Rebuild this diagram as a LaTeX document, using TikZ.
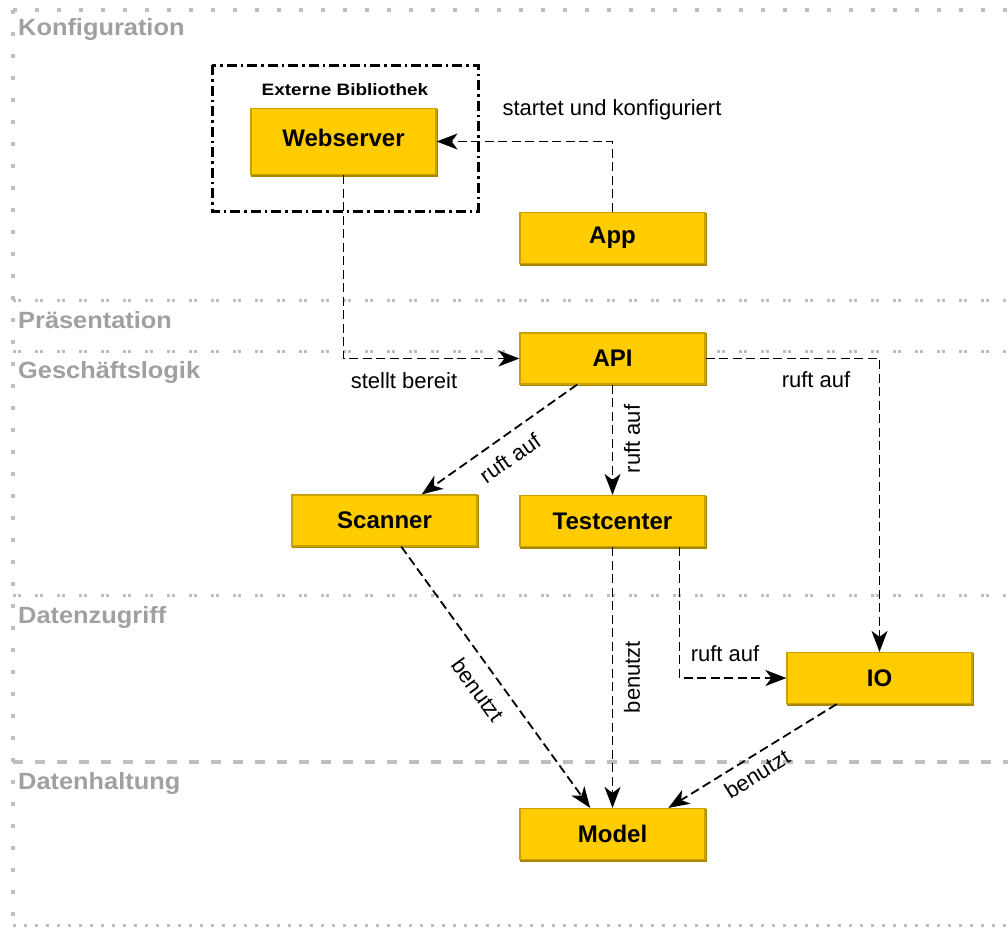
\documentclass[tikz,border=0pt]{standalone}
\usepackage{fontspec}
\setmainfont{Liberation Sans}
\newfontfamily\lanefont[FakeStretch=1.08]{Liberation Sans}
\newfontfamily\libfont[FakeStretch=1.15]{Liberation Sans}
\usetikzlibrary{arrows.meta,calc}

\definecolor{boxfill}{RGB}{255,204,0}
\definecolor{boxline}{RGB}{200,160,0}
\definecolor{boxshade}{RGB}{170,135,0}
\definecolor{lanetext}{RGB}{160,160,160}
\definecolor{laneline}{RGB}{190,190,190}

\tikzset{
  comp/.style={rectangle, draw=boxline, fill=boxfill, line width=1.2pt,
    minimum width=185pt, minimum height=51pt, inner sep=0pt,
    font=\fontsize{24}{28}\selectfont\bfseries,
    append after command={
      \pgfextra{\draw[boxshade, line width=1.6pt]
        ([xshift=1pt,yshift=-1pt]\tikzlastnode.south west) -- ([xshift=1pt,yshift=-1pt]\tikzlastnode.south east)
        -- ([xshift=1pt,yshift=-1pt]\tikzlastnode.north east);}}},
  conn/.style={draw=black, line width=1.8pt, dash pattern=on 9pt off 4.5pt,
    -{Stealth[length=21pt,width=16pt,inset=6pt]}},
  elabel/.style={inner sep=0pt, font=\fontsize{22}{26}\selectfont},
  lanelabel/.style={anchor=west, inner sep=0pt, text=lanetext,
    font=\fontsize{23.5}{27}\lanefont\bfseries},
  sepline/.style={draw=laneline, line width=3pt,
    dash pattern=on 3pt off 1.5pt on 3pt off 14.5pt},
  borderdots/.style={draw=laneline, line width=3.5pt, dash pattern=on 3.5pt off 18.5pt},
  libframe/.style={draw=black, line width=3pt,
    dash pattern=on 10pt off 4pt on 2.5pt off 4pt}
}

\begin{document}
\begin{tikzpicture}[x=1pt,y=-1pt]
\useasboundingbox (0,0) rectangle (1008,929);

% swimlane borders and separators
\draw[borderdots] (13,10) -- (1008,10);
\draw[borderdots] (13,10) -- (13,925);
\draw[draw=laneline, line width=3pt, dash pattern=on 3pt off 8pt] (13,925) -- (1008,925);
\draw[sepline] (13,300) -- (1008,300);
\draw[sepline] (13,351) -- (1008,351);
\draw[sepline] (13,595) -- (1008,595);
\draw[draw=laneline, line width=3.5pt, dash pattern=on 10pt off 12pt] (13,762) -- (1008,762);

% lane titles
\node[lanelabel] (lkonf) at (18,29)  {Konfiguration};
\node[lanelabel] (lpraes) at (18,320) {Präsentation};
\node[lanelabel] (lgesch) at (18,372) {Geschäftslogik};
\node[lanelabel] (lzugr) at (18,617) {Datenzugriff};
\node[lanelabel] (lhalt) at (18,783) {Datenhaltung};

% external library frame
\draw[libframe] (212,65) rectangle (478,211);
\node[inner sep=0pt, font=\fontsize{16.5}{20}\libfont\bfseries] (libtitle) at (345,90) {Externe Bibliothek};

% components
\node[comp, minimum height=66pt] (web) at (343.5,141.5) {\raisebox{8pt}{Webserver}};
\node[comp] (app) at (612.5,238) {App};
\node[comp] (api) at (612.5,358.5) {API};
\node[comp] (scanner) at (384.5,520.5) {Scanner};
\node[comp] (testcenter) at (612.5,521) {Testcenter};
\node[comp] (io) at (879.5,678) {IO};
\node[comp] (model) at (612.5,834) {Model};

% connectors
\draw[conn] (app.north) |- (web.east);
\draw[conn] (web.south) |- (api.west);
\draw[conn] (api.east) -| (io.north);
\draw[conn] ($(api.south west)!0.31!(api.south east)$) -- ($(scanner.north west)!0.70!(scanner.north east)$);
\draw[conn] (api.south) -- (testcenter.north);
\draw[conn] ($(scanner.south west)!0.59!(scanner.south east)$) -- ($(model.north west)!0.38!(model.north east)$);
\draw[conn] (testcenter.south) -- (model.north);
\draw[conn] ($(testcenter.south west)!0.86!(testcenter.south east)$) |- (io.west);
\draw[conn] ($(io.south west)!0.27!(io.south east)$) -- ($(model.north west)!0.80!(model.north east)$);

% connector labels
\node[elabel] (l1) at (612,110) {startet und konfiguriert};
\node[elabel] (l2) at (404,381) {stellt bereit};
\node[elabel] (l3) at (816,380) {ruft auf};
\node[elabel, rotate=35] (l4) at (510,458) {ruft auf};
\node[elabel, rotate=90] (l5) at (632,439) {ruft auf};
\node[elabel, rotate=-54] (l6) at (478,690) {benutzt};
\node[elabel, rotate=90] (l7) at (632,677) {benutzt};
\node[elabel] (l8) at (725,654) {ruft auf};
\node[elabel, rotate=32] (l9) at (757,774) {benutzt};
\end{tikzpicture}
\end{document}
